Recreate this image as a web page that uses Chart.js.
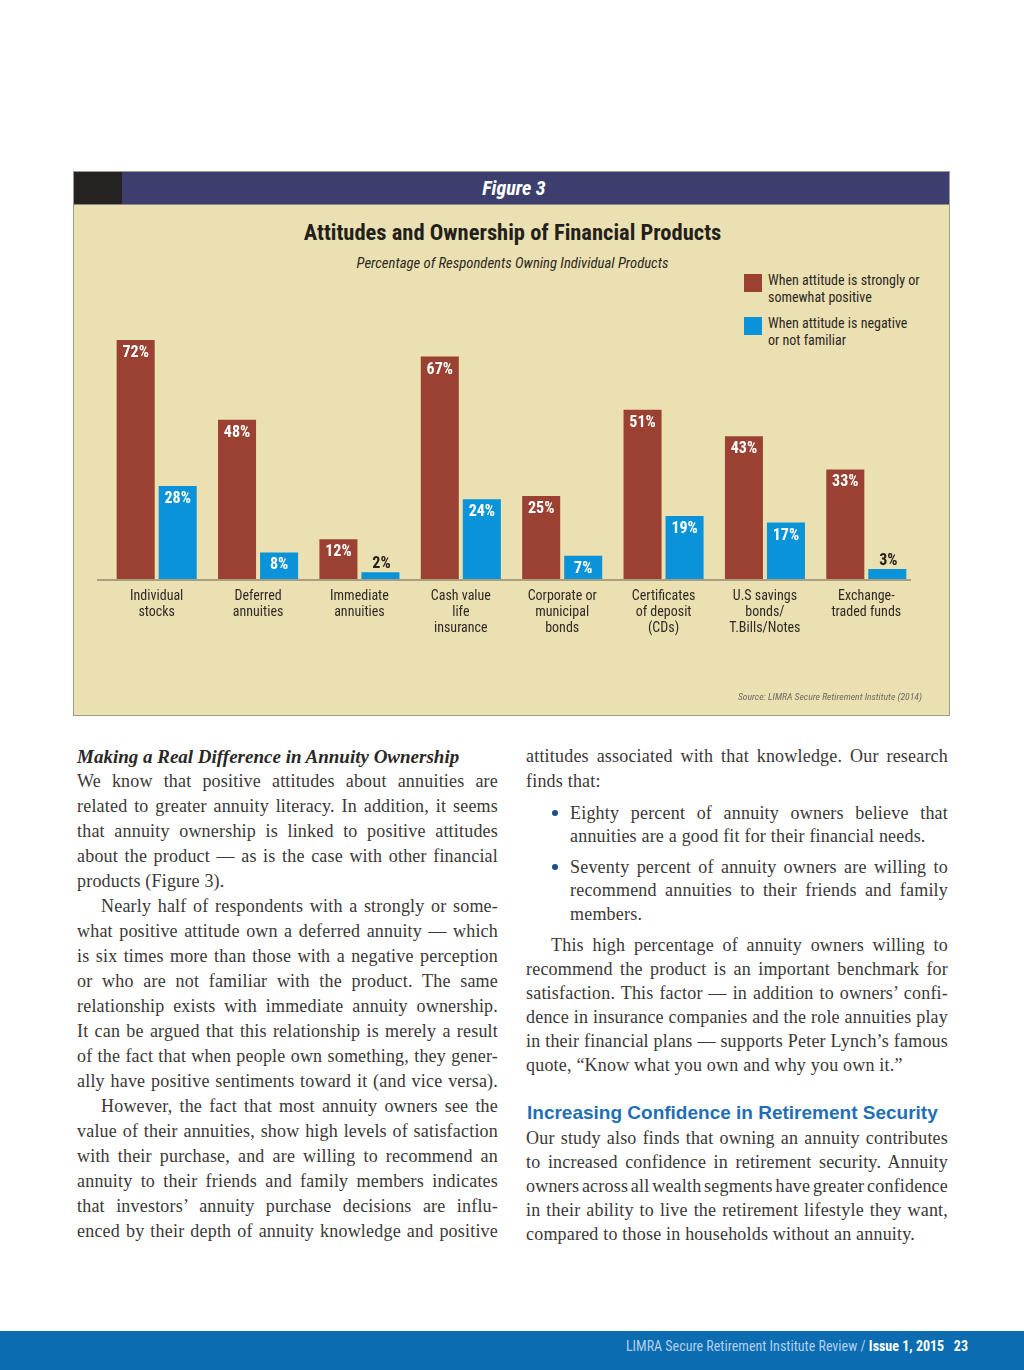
<!DOCTYPE html>
<html lang="en">
<head>
  <meta charset="UTF-8" />
  <title>Attitudes and Ownership of Financial Products</title>
  <script src="https://cdn.jsdelivr.net/npm/chart.js"></script>
  <style>
    body {
      margin: 0;
      width: 1024px;
      height: 1370px;
      position: relative;
      background: #fff;
      overflow: hidden;
    }
    .narrow { font-family: 'Liberation Sans Narrow', 'Roboto Condensed', 'DejaVu Sans Condensed', sans-serif; }

    .figure {
      position: absolute;
      left: 73px; top: 171px;
      width: 875px; height: 543px;
      border: 1px solid #9c9a8c;
      background: #ebe0b1;
    }
    .fig-head {
      position: absolute; left: 0; top: 0;
      width: 875px; height: 32px;
      background: #3c3f6e;
      border-bottom: 1px solid #8d8a80;
    }
    .fig-head .block { position: absolute; left: 0; top: 0; width: 48px; height: 32px; background: #252222; }
    .fig-head .label {
      position: absolute; left: 0; width: 880px; top: 0; line-height: 32px;
      text-align: center; color: #fff; font-size: 20px; font-weight: bold; font-style: italic;
    }
    .title {
      position: absolute; left: 0; width: 877px; top: 47px;
      text-align: center; font-size: 22.5px; font-weight: bold; color: #231f1c;
    }
    .subtitle {
      position: absolute; left: 0; width: 877px; top: 82px;
      text-align: center; font-size: 14.7px; font-style: italic; color: #2b2723;
    }
    .legend { position: absolute; left: 670px; top: 100px; font-size: 14px; color: #2b2723; }
    .legend .item { position: absolute; left: 0; width: 200px; }
    .legend .sw { position: absolute; left: 0; top: 2px; width: 18px; height: 18px; }
    .legend .tx { position: absolute; left: 24px; top: 0; line-height: 17px; white-space: nowrap; }
    .source {
      position: absolute; right: 27px; top: 519px;
      font-size: 9.7px; font-style: italic; color: #6f6a60;
    }
    .chart-box { position: absolute; left: 0; top: 32px; width: 875px; height: 511px; }

    .text { font-family: 'Liberation Serif', 'DejaVu Serif', serif; color: #3a3836; font-size: 18px; letter-spacing: 0.2px; }
    .ln { position: absolute; height: 25px; line-height: 25px; white-space: nowrap; }
    .head-it { font-weight: bold; font-style: italic; font-size: 19px; letter-spacing: 0; color: #2a2826; }
    .blue-head {
      position: absolute; left: 527px; top: 1100px; line-height: 26px;
      font-family: 'Liberation Sans', Arial, sans-serif; font-weight: bold; font-size: 19px; color: #1f6fb6;
      white-space: nowrap;
    }
    .bullet { position: absolute; width: 6px; height: 6px; border-radius: 3px; background: #1a4f8c; }

    .footer {
      position: absolute; left: 0; top: 1331px; width: 1024px; height: 39px;
      background: #0b6cb2;
    }
    .footer .ft {
      position: absolute; right: 56px; top: 7px; font-size: 14px; color: #b3d0ec; white-space: nowrap;
    }
    .footer b { color: #fff; }
  </style>
</head>
<body>
  <div class="figure narrow">
    <div class="fig-head">
      <div class="block"></div>
      <div class="label">Figure 3</div>
    </div>
    <div class="title">Attitudes and Ownership of Financial Products</div>
    <div class="subtitle">Percentage of Respondents Owning Individual Products</div>
    <div class="legend" id="legend"></div>
    <div class="chart-box"><canvas id="chart"></canvas></div>
    <div class="source">Source: LIMRA Secure Retirement Institute (2014)</div>
  </div>

  <div class="text" id="text"></div>
  <div class="blue-head">Increasing Confidence in Retirement Security</div>

  <div class="footer narrow">
    <div class="ft">LIMRA Secure Retirement Institute Review / <b>Issue 1, 2015</b>&nbsp;&nbsp;&nbsp;<b>23</b></div>
  </div>

  <script>
    // chart data
    const categories = [
      ['Individual', 'stocks'],
      ['Deferred', 'annuities'],
      ['Immediate', 'annuities'],
      ['Cash value', 'life', 'insurance'],
      ['Corporate or', 'municipal', 'bonds'],
      ['Certificates', 'of deposit', '(CDs)'],
      ['U.S savings', 'bonds/', 'T.Bills/Notes'],
      ['Exchange-', 'traded funds']
    ];
    const positiveValues = [72, 48, 12, 67, 25, 51, 43, 33];
    const negativeValues = [28, 8, 2, 24, 7, 19, 17, 3];
    const seriesNames = [
      ['When attitude is strongly or', 'somewhat positive'],
      ['When attitude is negative', 'or not familiar']
    ];
    const seriesColors = ['#9b4131', '#0a93d8'];

    const FONT = "'Liberation Sans Narrow', 'Roboto Condensed', 'DejaVu Sans Condensed', sans-serif";

    // legend
    const legend = document.getElementById('legend');
    seriesNames.forEach((name, i) => {
      const item = document.createElement('div');
      item.className = 'item';
      item.style.top = (i * 43) + 'px';
      item.innerHTML = `<div class="sw" style="background:${seriesColors[i]}"></div>
        <div class="tx">${name.join('<br>')}</div>`;
      legend.appendChild(item);
    });

    // value labels drawn on the bars
    const valueLabels = {
      id: 'valueLabels',
      afterDatasetsDraw(chart) {
        const ctx = chart.ctx;
        ctx.save();
        ctx.font = 'bold 16px ' + FONT;
        ctx.textAlign = 'center';
        ctx.textBaseline = 'middle';
        chart.data.datasets.forEach((ds, di) => {
          chart.getDatasetMeta(di).data.forEach((bar, i) => {
            const v = ds.data[i];
            if (v < 5) {
              ctx.fillStyle = '#24201c';
              ctx.fillText(v + '%', bar.x + 1, bar.y - 8);
            } else {
              ctx.fillStyle = '#ffffff';
              ctx.fillText(v + '%', bar.x, bar.y + 13);
            }
          });
        });
        ctx.restore();
      }
    };

    // baseline under the bars
    const baseLine = {
      id: 'baseLine',
      beforeDatasetsDraw(chart) {
        const ctx = chart.ctx;
        const y = chart.scales.y.getPixelForValue(0);
        ctx.save();
        ctx.strokeStyle = '#a99e82';
        ctx.lineWidth = 2;
        ctx.beginPath();
        ctx.moveTo(chart.chartArea.left - 9, y + 1);
        ctx.lineTo(chart.chartArea.right - 6, y + 1);
        ctx.stroke();
        ctx.restore();
      }
    };

    new Chart(document.getElementById('chart'), {
      type: 'bar',
      data: {
        labels: categories,
        datasets: [
          { label: seriesNames[0].join(' '), data: positiveValues, backgroundColor: seriesColors[0] },
          { label: seriesNames[1].join(' '), data: negativeValues, backgroundColor: seriesColors[1] }
        ]
      },
      options: {
        responsive: true,
        maintainAspectRatio: false,
        animation: false,
        barPercentage: 0.905,
        categoryPercentage: 0.829,
        layout: { padding: { left: 32, right: 32, top: 43, bottom: 0 } },
        plugins: { legend: { display: false }, tooltip: { enabled: false } },
        scales: {
          y: { display: false, min: 0, max: 100 },
          x: {
            grid: { display: false, drawTicks: false },
            border: { display: false },
            ticks: {
              autoSkip: false, maxRotation: 0, padding: 9,
              color: '#2e2a26',
              font: { family: FONT, size: 14, lineHeight: 1.15 }
            },
            afterFit(scale) { scale.height = 136; }
          }
        }
      },
      plugins: [baseLine, valueLabels]
    });

    // article text, one entry per printed line: [x, yCenter, width, text, justify]
    const lines = [
      [77, 756, 421, '<span class="head-it">Making a Real Difference in Annuity Ownership</span>', false],
      [77, 781, 421, 'We know that positive attitudes about annuities are', true],
      [77, 806, 421, 'related to greater annuity literacy. In addition, it seems', true],
      [77, 831, 421, 'that annuity ownership is linked to positive attitudes', true],
      [77, 856, 421, 'about the product — as is the case with other financial', true],
      [77, 881, 421, 'products (Figure 3).', false],
      [101, 906, 397, 'Nearly half of respondents with a strongly or some-', true],
      [77, 931, 421, 'what positive attitude own a deferred annuity — which', true],
      [77, 956, 421, 'is six times more than those with a negative perception', true],
      [77, 981, 421, 'or who are not familiar with the product. The same', true],
      [77, 1006, 421, 'relationship exists with immediate annuity ownership.', true],
      [77, 1031, 421, 'It can be argued that this relationship is merely a result', true],
      [77, 1056, 421, 'of the fact that when people own something, they gener-', true],
      [77, 1081, 421, 'ally have positive sentiments toward it (and vice versa).', true],
      [101, 1106, 397, 'However, the fact that most annuity owners see the', true],
      [77, 1131, 421, 'value of their annuities, show high levels of satisfaction', true],
      [77, 1156, 421, 'with their purchase, and are willing to recommend an', true],
      [77, 1181, 421, 'annuity to their friends and family members indicates', true],
      [77, 1206, 421, 'that investors’ annuity purchase decisions are influ-', true],
      [77, 1231, 421, 'enced by their depth of annuity knowledge and positive', true],

      [526, 756, 422, 'attitudes associated with that knowledge. Our research', true],
      [526, 781, 422, 'finds that:', false],
      [570, 813, 378, 'Eighty percent of annuity owners believe that', true],
      [570, 836, 378, 'annuities are a good fit for their financial needs.', false],
      [570, 867, 378, 'Seventy percent of annuity owners are willing to', true],
      [570, 890, 378, 'recommend annuities to their friends and family', true],
      [570, 914, 378, 'members.', false],
      [551, 945, 397, 'This high percentage of annuity owners willing to', true],
      [526, 969, 422, 'recommend the product is an important benchmark for', true],
      [526, 993, 422, 'satisfaction. This factor — in addition to owners’ confi-', true],
      [526, 1017, 422, 'dence in insurance companies and the role annuities play', true],
      [526, 1041, 422, 'in their financial plans — supports Peter Lynch’s famous', true],
      [526, 1065, 422, 'quote, “Know what you own and why you own it.”', false],
      [526, 1138, 422, 'Our study also finds that owning an annuity contributes', true],
      [526, 1162, 422, 'to increased confidence in retirement security. Annuity', true],
      [526, 1186, 422, 'owners across all wealth segments have greater confidence', true],
      [526, 1210, 422, 'in their ability to live the retirement lifestyle they want,', true],
      [526, 1234, 422, 'compared to those in households without an annuity.', false]
    ];
    const bullets = [[555, 813], [555, 867]];

    const textBox = document.getElementById('text');
    lines.forEach(([x, y, w, t, just]) => {
      const d = document.createElement('div');
      d.className = 'ln';
      d.style.left = x + 'px';
      d.style.top = (y - 12) + 'px';
      d.innerHTML = '<span>' + t + '</span>';
      textBox.appendChild(d);
      if (just) {
        const span = d.firstChild;
        const natural = span.getBoundingClientRect().width;
        const spaces = (t.match(/ /g) || []).length;
        if (spaces) d.style.wordSpacing = ((w - natural) / spaces) + 'px';
      }
    });
    bullets.forEach(([x, y]) => {
      const b = document.createElement('div');
      b.className = 'bullet';
      b.style.left = (x - 3) + 'px';
      b.style.top = (y - 3) + 'px';
      textBox.appendChild(b);
    });
  </script>
</body>
</html>
